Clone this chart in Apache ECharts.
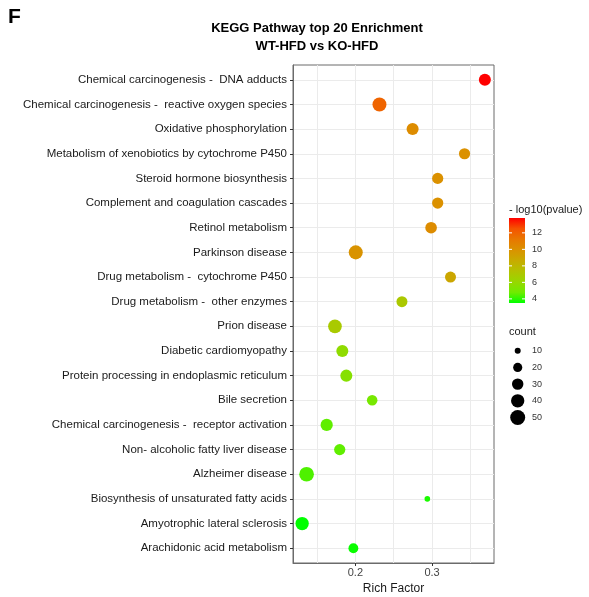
<!DOCTYPE html>
<html>
<head>
<meta charset="utf-8">
<script src="https://cdn.jsdelivr.net/npm/echarts@6/dist/echarts.min.js"></script>
<style>
html,body{margin:0;padding:0;background:#fff;}
#chart{width:589px;height:597px;}
</style>
</head>
<body>
<div id="chart"></div>
<script>
// ---- data ----
const categories = [
  'Chemical carcinogenesis -  DNA adducts',
  'Chemical carcinogenesis -  reactive oxygen species',
  'Oxidative phosphorylation',
  'Metabolism of xenobiotics by cytochrome P450',
  'Steroid hormone biosynthesis',
  'Complement and coagulation cascades',
  'Retinol metabolism',
  'Parkinson disease',
  'Drug metabolism -  cytochrome P450',
  'Drug metabolism -  other enzymes',
  'Prion disease',
  'Diabetic cardiomyopathy',
  'Protein processing in endoplasmic reticulum',
  'Bile secretion',
  'Chemical carcinogenesis -  receptor activation',
  'Non- alcoholic fatty liver disease',
  'Alzheimer disease',
  'Biosynthesis of unsaturated fatty acids',
  'Amyotrophic lateral sclerosis',
  'Arachidonic acid metabolism'
];
const richFactor = [0.3688, 0.2314, 0.2746, 0.3423, 0.3073, 0.3073, 0.2987, 0.2005, 0.3240, 0.2607,
                    0.1734, 0.1830, 0.1882, 0.2219, 0.1626, 0.1796, 0.1364, 0.2938, 0.1306, 0.1974];
const negLog10P = [13.8, 11.9, 10.2, 10.0, 10.0, 10.0, 10.2, 9.9, 8.9, 7.0,
                   6.9, 5.8, 5.5, 5.0, 4.6, 4.6, 4.4, 3.8, 3.5, 3.6];
const geneCount = [33, 44, 33, 29, 29, 29, 31, 44, 28, 28,
                   42, 33, 33, 26, 34, 29, 48, 9, 40, 23];
const xTicks = [0.2, 0.3];
const xGrid = [0.15, 0.2, 0.25, 0.3, 0.35];
const colorTicks = [4, 6, 8, 10, 12];
const countTicks = [10, 20, 30, 40, 50];

// ---- styling / scales ----
const FONT = '"Liberation Sans", Arial, Helvetica, sans-serif';
const pMin = 3.5, pMax = 13.8;
const xMin = 0.1187, xMax = 0.3807;
const gradColors = ['#00FF00', '#70EB00', '#98D700', '#B3C200', '#C8AB00', '#DA9200', '#E87700', '#F55300', '#FF0000'];
function sizeOf(c) { return Math.sqrt(Math.max(4.725 * c - 11.25, 4)); }

const idx = categories.map((_, i) => i);
const data = categories.map((c, i) => [richFactor[i], i, negLog10P[i], geneCount[i], c]);

const chart = echarts.init(document.getElementById('chart'), null, {renderer: 'canvas'});

// colour-bar geometry
const cb = {x: 509, y: 218, w: 16, h: 85};
const cbY = v => cb.y + cb.h - (v - pMin) / (pMax - pMin) * cb.h;
const graphics = [];
graphics.push({type: 'text', left: 8, top: 7, style: {text: 'F', font: 'bold 21px ' + FONT, fill: '#000'}});
graphics.push({type: 'text', x: 317, y: 28, style: {text: 'KEGG Pathway top 20 Enrichment', font: 'bold 13px ' + FONT, fill: '#000', textAlign: 'center', textVerticalAlign: 'middle'}});
graphics.push({type: 'text', x: 317, y: 46, style: {text: 'WT-HFD vs KO-HFD', font: 'bold 13px ' + FONT, fill: '#000', textAlign: 'center', textVerticalAlign: 'middle'}});
graphics.push({type: 'text', x: 509, y: 210, style: {text: '- log10(pvalue)', font: '11px ' + FONT, fill: '#1a1a1a', textAlign: 'left', textVerticalAlign: 'middle'}});
graphics.push({type: 'rect', shape: {x: cb.x, y: cb.y, width: cb.w, height: cb.h},
  style: {fill: new echarts.graphic.LinearGradient(0, 0, 0, 1,
    gradColors.slice().reverse().map((c, i) => ({offset: i / (gradColors.length - 1), color: c})))}});
colorTicks.forEach(v => {
  const y = cbY(v);
  graphics.push({type: 'line', shape: {x1: cb.x, y1: y, x2: cb.x + 3, y2: y}, style: {stroke: '#fff', lineWidth: 1}});
  graphics.push({type: 'line', shape: {x1: cb.x + cb.w - 3, y1: y, x2: cb.x + cb.w, y2: y}, style: {stroke: '#fff', lineWidth: 1}});
  graphics.push({type: 'text', x: 532, y: y, style: {text: String(v), font: '9px ' + FONT, fill: '#333', textAlign: 'left', textVerticalAlign: 'middle'}});
});
graphics.push({type: 'text', x: 509, y: 332, style: {text: 'count', font: '11px ' + FONT, fill: '#1a1a1a', textAlign: 'left', textVerticalAlign: 'middle'}});
countTicks.forEach((c, i) => {
  const y = 350.7 + i * 16.7;
  graphics.push({type: 'circle', shape: {cx: 517.7, cy: y, r: sizeOf(c) / 2}, style: {fill: '#000'}});
  graphics.push({type: 'text', x: 532, y: y, style: {text: String(c), font: '9px ' + FONT, fill: '#333', textAlign: 'left', textVerticalAlign: 'middle'}});
});

const option = {
  backgroundColor: '#fff',
  animation: false,
  grid: {left: 293, right: 95, top: 65, bottom: 34, show: true, borderColor: '#6b6b6b', borderWidth: 1,
         containLabel: false, outerBoundsMode: 'none'},
  visualMap: {type: 'continuous', show: false, min: pMin, max: pMax, dimension: 2, seriesIndex: 0,
              inRange: {color: gradColors}},
  xAxis: [{
    type: 'value', min: xMin, max: xMax, position: 'bottom',
    axisLine: {show: true, onZero: false, lineStyle: {color: '#6b6b6b'}},
    axisTick: {show: true, length: 3, customValues: xTicks, lineStyle: {color: '#333'}},
    axisLabel: {customValues: xTicks, formatter: v => v.toFixed(1), fontSize: 11, color: '#444', margin: 4, fontFamily: FONT},
    splitLine: {show: false},
    name: 'Rich Factor', nameLocation: 'middle', nameGap: 17,
    nameTextStyle: {fontSize: 12, color: '#1a1a1a', fontFamily: FONT}
  }, {
    type: 'value', min: xMin, max: xMax, position: 'bottom',
    axisLine: {show: false, onZero: false}, axisLabel: {show: false},
    axisTick: {show: false, customValues: xGrid},
    splitLine: {show: true, lineStyle: {color: '#ebebeb', width: 1}}
  }],
  yAxis: {
    type: 'value', inverse: true, min: -0.6, max: categories.length - 0.4,
    axisLine: {show: true, onZero: false, lineStyle: {color: '#6b6b6b'}},
    axisTick: {show: true, length: 3, customValues: idx, lineStyle: {color: '#333'}},
    axisLabel: {customValues: idx, formatter: v => categories[Math.round(v)], fontSize: 11.5, color: '#1a1a1a', margin: 6, fontFamily: FONT},
    splitLine: {show: true, lineStyle: {color: '#ebebeb', width: 1}}
  },
  series: [{
    type: 'scatter', xAxisIndex: 0, yAxisIndex: 0,
    data: data,
    symbol: 'circle',
    symbolSize: v => sizeOf(v[3]),
    itemStyle: {opacity: 1}
  }],
  graphic: graphics
};
chart.setOption(option);
</script>
</body>
</html>
